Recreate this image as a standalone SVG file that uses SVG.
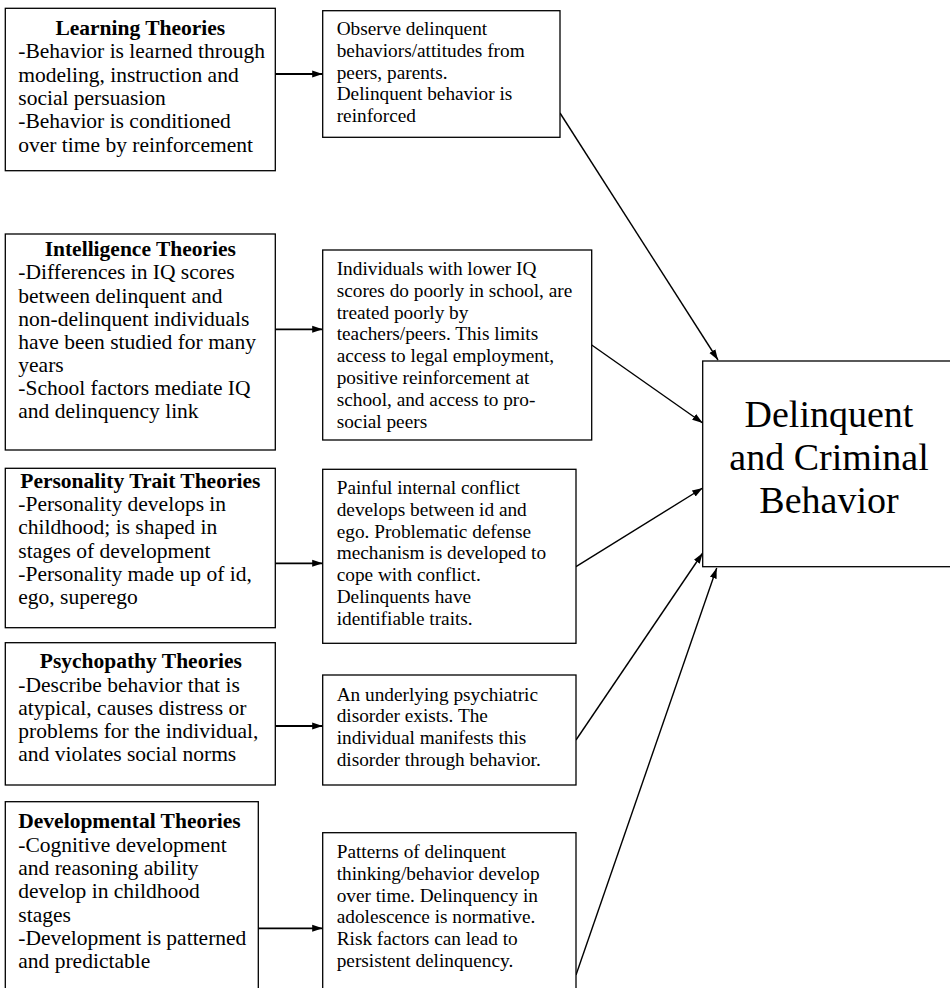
<svg xmlns="http://www.w3.org/2000/svg" width="950" height="988" viewBox="0 0 950 988">
<style>
  .box { fill: #fff; stroke: #000; stroke-width: 1.3; }
  .lt { font-family: "Liberation Serif", "Times New Roman", serif; font-size: 21.5px; fill: #000; }
  .ttl { font-weight: bold; text-anchor: middle; }
  .rt { font-family: "Liberation Serif", "Times New Roman", serif; font-size: 19.3px; fill: #000; }
  .big { font-family: "Liberation Serif", "Times New Roman", serif; font-size: 38px; fill: #000; text-anchor: middle; }
  .con { stroke: #000; stroke-width: 1.4; fill: none; marker-end: url(#arr); }
  .hcon { stroke: #000; stroke-width: 1.8; fill: none; marker-end: url(#arr); }
</style>
<defs>
  <marker id="arr" markerUnits="userSpaceOnUse" markerWidth="11" markerHeight="8" refX="10.5" refY="4" orient="auto">
    <path d="M0,0.5 L10.5,4 L0,7.5 z" fill="#000"/>
  </marker>
</defs>
<rect width="950" height="988" fill="#fff"/>

<g id="connectors">
  <line class="hcon" x1="275.3" y1="74" x2="322.7" y2="74"/>
  <line class="hcon" x1="275.3" y1="329.3" x2="322.7" y2="329.3"/>
  <line class="hcon" x1="275.3" y1="563.3" x2="322.7" y2="563.3"/>
  <line class="hcon" x1="275.3" y1="726" x2="322.7" y2="726"/>
  <line class="hcon" x1="258.3" y1="928.3" x2="322.7" y2="928.3"/>
  <line class="con" x1="560" y1="113" x2="718" y2="360"/>
  <line class="con" x1="591.7" y1="345" x2="702.7" y2="423"/>
  <line class="con" x1="576" y1="566.7" x2="702.7" y2="488"/>
  <line class="con" x1="576" y1="740" x2="702.7" y2="553"/>
  <line class="con" x1="576" y1="975" x2="716.7" y2="568"/>
</g>

<g id="learning">
  <rect class="box" x="5.3" y="8.3" width="270" height="162.4"/>
  <text class="lt ttl" x="140.3" y="35">Learning Theories</text>
  <text class="lt" x="18.3" y="58.3">-Behavior is learned through</text>
  <text class="lt" x="18.3" y="81.6">modeling, instruction and</text>
  <text class="lt" x="18.3" y="104.9">social persuasion</text>
  <text class="lt" x="18.3" y="128.2">-Behavior is conditioned</text>
  <text class="lt" x="18.3" y="151.5">over time by reinforcement</text>
</g>

<g id="observe">
  <rect class="box" x="322.7" y="10.7" width="237.3" height="126.6"/>
  <text class="rt" x="336.7" y="35">Observe delinquent</text>
  <text class="rt" x="336.7" y="56.8">behaviors/attitudes from</text>
  <text class="rt" x="336.7" y="78.6">peers, parents.</text>
  <text class="rt" x="336.7" y="100.4">Delinquent behavior is</text>
  <text class="rt" x="336.7" y="122.2">reinforced</text>
</g>

<g id="intelligence">
  <rect class="box" x="5.3" y="234" width="270" height="216"/>
  <text class="lt ttl" x="140.3" y="256.3">Intelligence Theories</text>
  <text class="lt" x="18.3" y="279.4">-Differences in IQ scores</text>
  <text class="lt" x="18.3" y="302.5">between delinquent and</text>
  <text class="lt" x="18.3" y="325.6">non-delinquent individuals</text>
  <text class="lt" x="18.3" y="348.7">have been studied for many</text>
  <text class="lt" x="18.3" y="371.8">years</text>
  <text class="lt" x="18.3" y="394.9">-School factors mediate IQ</text>
  <text class="lt" x="18.3" y="418">and delinquency link</text>
</g>

<g id="individuals">
  <rect class="box" x="322.7" y="250" width="269" height="190"/>
  <text class="rt" x="336.7" y="275">Individuals with lower IQ</text>
  <text class="rt" x="336.7" y="296.8">scores do poorly in school, are</text>
  <text class="rt" x="336.7" y="318.6">treated poorly by</text>
  <text class="rt" x="336.7" y="340.4">teachers/peers. This limits</text>
  <text class="rt" x="336.7" y="362.2">access to legal employment,</text>
  <text class="rt" x="336.7" y="384">positive reinforcement at</text>
  <text class="rt" x="336.7" y="405.8">school, and access to pro-</text>
  <text class="rt" x="336.7" y="427.6">social peers</text>
</g>

<g id="personality">
  <rect class="box" x="5.3" y="468.3" width="270" height="159.4"/>
  <text class="lt ttl" x="140.3" y="487.7">Personality Trait Theories</text>
  <text class="lt" x="18.3" y="511">-Personality develops in</text>
  <text class="lt" x="18.3" y="534.3">childhood; is shaped in</text>
  <text class="lt" x="18.3" y="557.6">stages of development</text>
  <text class="lt" x="18.3" y="580.9">-Personality made up of id,</text>
  <text class="lt" x="18.3" y="604.2">ego, superego</text>
</g>

<g id="painful">
  <rect class="box" x="322.7" y="469.3" width="253.3" height="174"/>
  <text class="rt" x="336.7" y="494">Painful internal conflict</text>
  <text class="rt" x="336.7" y="515.8">develops between id and</text>
  <text class="rt" x="336.7" y="537.6">ego. Problematic defense</text>
  <text class="rt" x="336.7" y="559.4">mechanism is developed to</text>
  <text class="rt" x="336.7" y="581.2">cope with conflict.</text>
  <text class="rt" x="336.7" y="603">Delinquents have</text>
  <text class="rt" x="336.7" y="624.8">identifiable traits.</text>
</g>

<g id="psychopathy">
  <rect class="box" x="5.3" y="642.7" width="270" height="142.3"/>
  <text class="lt ttl" x="140.8" y="668.3">Psychopathy Theories</text>
  <text class="lt" x="18.3" y="691.5">-Describe behavior that is</text>
  <text class="lt" x="18.3" y="714.8">atypical, causes distress or</text>
  <text class="lt" x="18.3" y="738">problems for the individual,</text>
  <text class="lt" x="18.3" y="761.3">and violates social norms</text>
</g>

<g id="psychiatric">
  <rect class="box" x="322.7" y="675" width="253.3" height="110"/>
  <text class="rt" x="336.7" y="700.5">An underlying psychiatric</text>
  <text class="rt" x="336.7" y="722.3">disorder exists. The</text>
  <text class="rt" x="336.7" y="744.1">individual manifests this</text>
  <text class="rt" x="336.7" y="765.9">disorder through behavior.</text>
</g>

<g id="developmental">
  <rect class="box" x="5.3" y="801.7" width="253" height="200"/>
  <text class="lt" x="18.3" y="828.3" font-weight="bold">Developmental Theories</text>
  <text class="lt" x="18.3" y="851.6">-Cognitive development</text>
  <text class="lt" x="18.3" y="874.9">and reasoning ability</text>
  <text class="lt" x="18.3" y="898.2">develop in childhood</text>
  <text class="lt" x="18.3" y="921.5">stages</text>
  <text class="lt" x="18.3" y="944.8">-Development is patterned</text>
  <text class="lt" x="18.3" y="968.1">and predictable</text>
</g>

<g id="patterns">
  <rect class="box" x="322.7" y="832.7" width="253.3" height="170"/>
  <text class="rt" x="336.7" y="858">Patterns of delinquent</text>
  <text class="rt" x="336.7" y="879.8">thinking/behavior develop</text>
  <text class="rt" x="336.7" y="901.6">over time. Delinquency in</text>
  <text class="rt" x="336.7" y="923.4">adolescence is normative.</text>
  <text class="rt" x="336.7" y="945.2">Risk factors can lead to</text>
  <text class="rt" x="336.7" y="967">persistent delinquency.</text>
</g>

<g id="outcome">
  <rect class="box" x="702.7" y="361" width="252" height="205.7"/>
  <text class="big" x="829" y="427">Delinquent</text>
  <text class="big" x="829" y="469.5">and Criminal</text>
  <text class="big" x="829" y="512.7">Behavior</text>
</g>
</svg>
